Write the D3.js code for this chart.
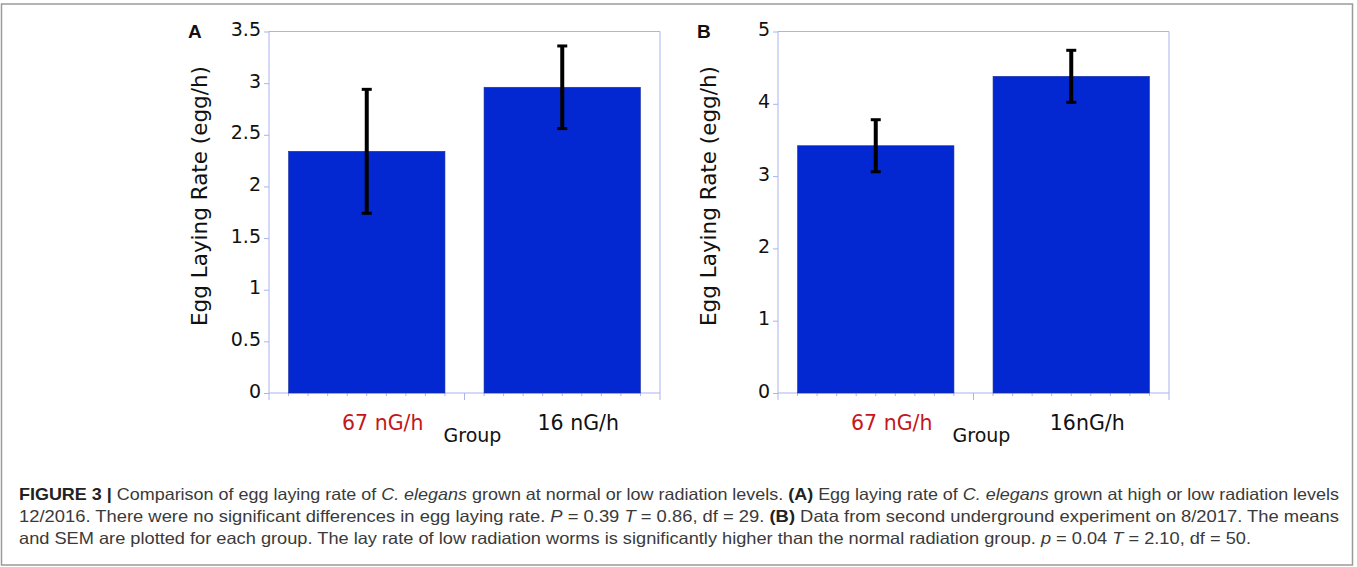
<!DOCTYPE html>
<html>
<head>
<meta charset="utf-8">
<script src="https://cdn.jsdelivr.net/npm/d3@7"></script>
<style>
  body { margin: 0; background: #fff; }
  svg { display: block; }
</style>
</head>
<body>
<div id="fig"></div>
<script>
// panel A: first experiment (12/2016)
var groupsA = ["67 nG/h", "16 nG/h"];
var meansA = [2.34, 2.96];
var semA = [0.60, 0.40];
var ticksA = [0, 0.5, 1, 1.5, 2, 2.5, 3, 3.5];

// panel B: second underground experiment (8/2017)
var groupsB = ["67 nG/h", "16nG/h"];
var meansB = [3.42, 4.38];
var semB = [0.36, 0.36];
var ticksB = [0, 1, 2, 3, 4, 5];

var labelColors = ["#c4161c", "#111111"];

var width = 1357, height = 567;
var svg = d3.select("#fig").append("svg")
    .attr("width", width)
    .attr("height", height);

// outer figure frame
svg.append("rect")
    .attr("x", 1.5).attr("y", 4)
    .attr("width", 1351).attr("height", 561)
    .attr("fill", "none")
    .attr("stroke", "#9a9a9a")
    .attr("stroke-width", 1.5);

var frameColor = "#aab3ee";
var barColor = "#0327d0";

function panel(ox, letter, cats, means, sems, ticks) {
    var g = svg.append("g").attr("transform", "translate(" + ox + ",0)");
    var left = 269, right = 660, top = 31.5, bottom = 393;

    var y = d3.scaleLinear()
        .domain([0, d3.max(ticks)])
        .range([bottom, top]);
    var x = d3.scaleBand()
        .domain(cats)
        .range([left, right]);
    var bw = x.bandwidth();

    // plot box
    g.append("line").attr("x1", left).attr("x2", right).attr("y1", top).attr("y2", top)
        .attr("stroke", frameColor);
    g.append("line").attr("x1", right).attr("x2", right).attr("y1", top).attr("y2", bottom + 7)
        .attr("stroke", frameColor);
    g.append("line").attr("x1", left).attr("x2", right).attr("y1", bottom).attr("y2", bottom)
        .attr("stroke", frameColor);
    g.append("line").attr("x1", left).attr("x2", left).attr("y1", top).attr("y2", bottom + 7)
        .attr("stroke", frameColor);

    // x ticks: long at band edges, short ones in between
    cats.forEach(function (c, i) {
        var sub = d3.range(1, 10);
        g.selectAll(null).data(sub).enter().append("line")
            .attr("x1", function (d) { return x(c) + d * bw / 10; })
            .attr("x2", function (d) { return x(c) + d * bw / 10; })
            .attr("y1", bottom).attr("y2", bottom + 3)
            .attr("stroke", frameColor);
        if (i > 0) {
            g.append("line").attr("x1", x(c)).attr("x2", x(c))
                .attr("y1", bottom).attr("y2", bottom + 7)
                .attr("stroke", frameColor);
        }
    });

    // y axis
    var ax = g.append("g")
        .attr("transform", "translate(" + left + ",0)")
        .call(d3.axisLeft(y).tickValues(ticks).tickSize(5).tickPadding(3)
            .tickFormat(function (d) { return String(d); }));
    ax.select(".domain").remove();
    ax.selectAll(".tick line").attr("stroke", frameColor);
    ax.selectAll(".tick text")
        .attr("font-family", "DejaVu Sans, sans-serif")
        .attr("font-size", 19)
        .attr("fill", "#111")
        .attr("dy", "0.22em");

    // bars
    g.selectAll(".bar").data(cats).enter().append("rect")
        .attr("class", "bar")
        .attr("x", function (d) { return x(d) + bw * 0.1; })
        .attr("width", bw * 0.8)
        .attr("y", function (d, i) { return y(means[i]); })
        .attr("height", function (d, i) { return bottom - y(means[i]); })
        .attr("fill", barColor)
        .attr("stroke", "#1b2f9c")
        .attr("stroke-width", 0.6);

    // error bars (mean +/- SEM)
    var eb = g.selectAll(".err").data(cats).enter().append("g").attr("class", "err");
    eb.append("line")
        .attr("x1", function (d) { return x(d) + bw / 2; })
        .attr("x2", function (d) { return x(d) + bw / 2; })
        .attr("y1", function (d, i) { return y(means[i] + sems[i]); })
        .attr("y2", function (d, i) { return y(means[i] - sems[i]); })
        .attr("stroke", "#000").attr("stroke-width", 4);
    [1, -1].forEach(function (s) {
        eb.append("line")
            .attr("x1", function (d) { return x(d) + bw / 2 - 5; })
            .attr("x2", function (d) { return x(d) + bw / 2 + 5; })
            .attr("y1", function (d, i) { return y(means[i] + s * sems[i]); })
            .attr("y2", function (d, i) { return y(means[i] + s * sems[i]); })
            .attr("stroke", "#000").attr("stroke-width", 3);
    });

    // category labels
    g.selectAll(".cat").data(cats).enter().append("text")
        .attr("x", function (d) { return x(d) + bw / 2 + 16; })
        .attr("y", 430)
        .attr("text-anchor", "middle")
        .attr("font-family", "DejaVu Sans, sans-serif")
        .attr("font-size", 20.5)
        .attr("fill", function (d, i) { return labelColors[i]; })
        .text(function (d) { return d; });

    g.append("text")
        .attr("x", (left + right) / 2 + 8)
        .attr("y", 442)
        .attr("text-anchor", "middle")
        .attr("font-family", "DejaVu Sans, sans-serif")
        .attr("font-size", 19)
        .attr("fill", "#111")
        .text("Group");

    g.append("text")
        .attr("transform", "translate(207,196) rotate(-90)")
        .attr("text-anchor", "middle")
        .attr("font-family", "DejaVu Sans, sans-serif")
        .attr("font-size", 21.5)
        .attr("fill", "#111")
        .text("Egg Laying Rate (egg/h)");

    g.append("text")
        .attr("x", 188).attr("y", 38)
        .attr("font-family", "Liberation Sans, Arial, sans-serif")
        .attr("font-weight", "bold")
        .attr("font-size", 19)
        .attr("fill", "#111")
        .text(letter);
}

panel(0, "A", groupsA, meansA, semA, ticksA);
panel(509, "B", groupsB, meansB, semB, ticksB);

// caption, one text element per line
var capLines = [
    [["FIGURE 3 | ", "b"], ["Comparison of egg laying rate of ", ""], ["C. elegans", "i"],
     [" grown at normal or low radiation levels. ", ""], ["(A)", "b"], [" Egg laying rate of ", ""],
     ["C. elegans", "i"], [" grown at high or low radiation levels", ""]],
    [["12/2016. There were no significant differences in egg laying rate. ", ""], ["P", "i"],
     [" = 0.39 ", ""], ["T", "i"], [" = 0.86, df = 29. ", ""], ["(B)", "b"],
     [" Data from second underground experiment on 8/2017. The means", ""]],
    [["and SEM are plotted for each group. The lay rate of low radiation worms is significantly higher than the normal radiation group. ", ""],
     ["p", "i"], [" = 0.04 ", ""], ["T", "i"], [" = 2.10, df = 50.", ""]]
];
var capLengths = [1320, 1320, 1232];
var capY = [500, 522, 544];

capLines.forEach(function (line, li) {
    var t = svg.append("text")
        .attr("x", 19).attr("y", capY[li])
        .attr("font-family", "Liberation Sans Narrow, Liberation Sans, Arial, sans-serif")
        .attr("font-size", 16.5)
        .attr("fill", "#3a3a3a")
        .attr("textLength", capLengths[li])
        .attr("lengthAdjust", "spacingAndGlyphs");
    line.forEach(function (p) {
        t.append("tspan")
            .attr("font-weight", p[1] === "b" ? "bold" : null)
            .attr("font-style", p[1] === "i" ? "italic" : null)
            .attr("fill", p[1] === "b" ? "#222" : null)
            .text(p[0]);
    });
});
</script>
</body>
</html>
